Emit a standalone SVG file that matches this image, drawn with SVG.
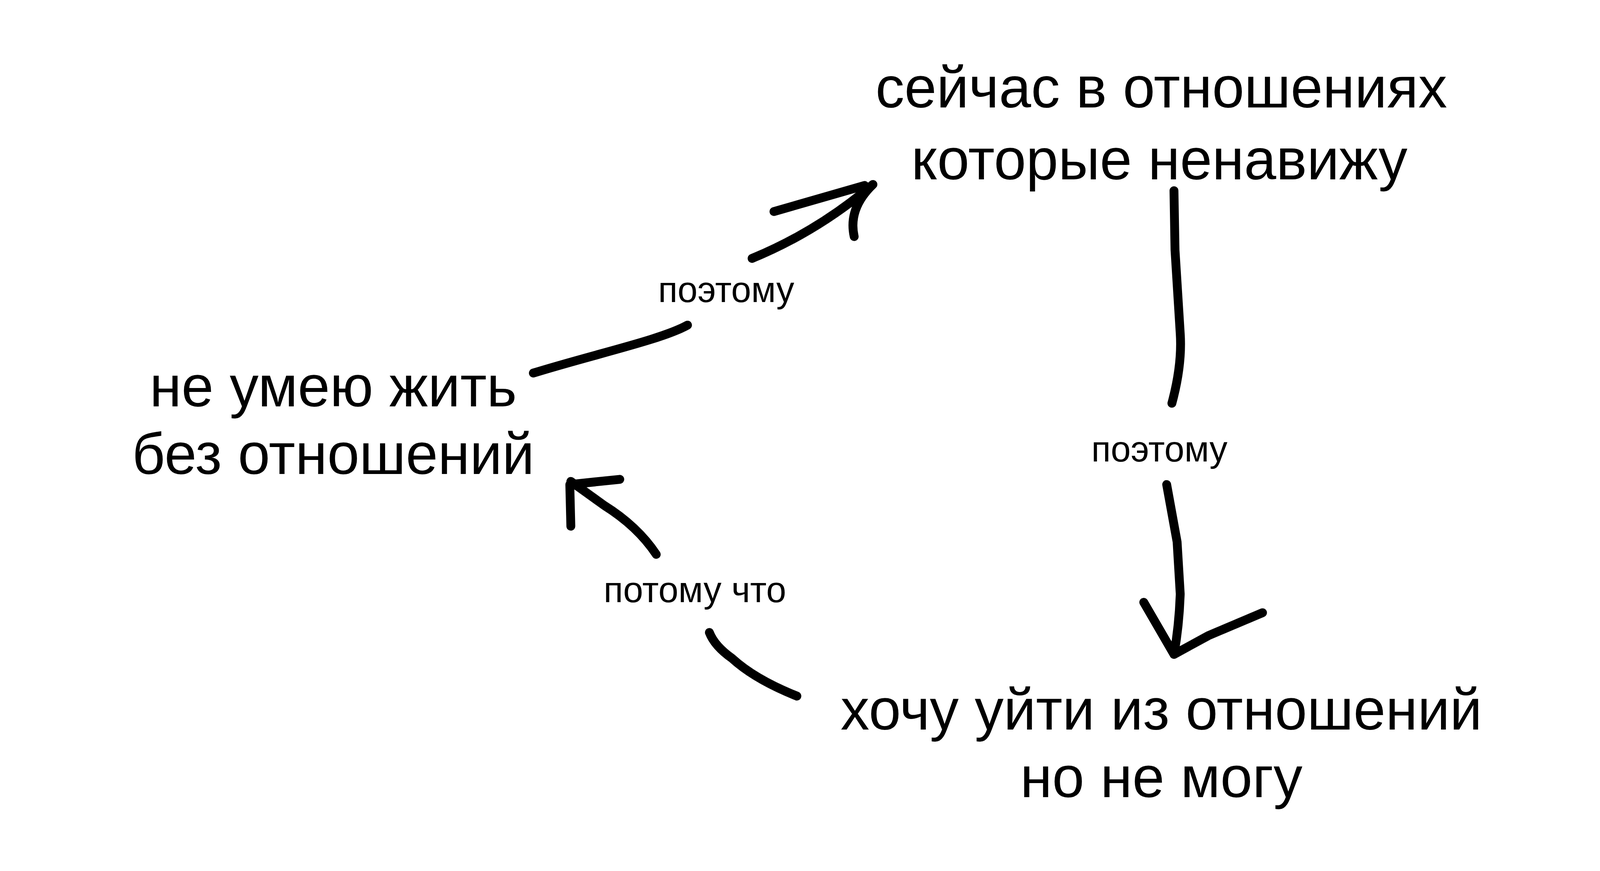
<svg xmlns="http://www.w3.org/2000/svg" width="4160" height="2229" viewBox="0 0 4160 2229">
<style>
.t{font-family:"Liberation Sans","DejaVu Sans",sans-serif;font-size:148px;fill:#000;text-anchor:middle}
.l{font-family:"Liberation Sans","DejaVu Sans",sans-serif;font-size:92px;fill:#000;text-anchor:middle}
.s{fill:none;stroke:#000;stroke-width:8.5;stroke-linecap:round;stroke-linejoin:round}
</style>
<rect width="4160" height="2229" fill="#fff"/>
<g id="n1"><text class="t" x="2973" y="275">сейчас в отношениях</text><text class="t" x="2968" y="459">которые ненавижу</text></g>
<g id="n2"><text class="t" x="853" y="1040">не умею жить</text><text class="t" x="853" y="1213">без отношений</text></g>
<g id="n3"><text class="t" x="2973" y="1867">хочу уйти из отношений</text><text class="t" x="2973" y="2040">но не могу</text></g>
<g id="connectors" transform="scale(2.6667)">
<path class="s" d="M512,358 C570,340 635,326 660,312"/>
<path class="s" d="M722,248 Q785,222 838,177 M743,203 L830,178 M820,227 Q814,200 838,177"/>
<path class="s" d="M1127,183 L1128,240 L1133,320 Q1135,350 1125,387"/>
<path class="s" d="M1120,465 L1130,520 L1133,570 Q1132,600 1127,628 M1098,578 L1127,628 L1160,610 L1212,588"/>
<path class="s" d="M765,668 Q725,652 703,632 Q686,620 681,607"/>
<path class="s" d="M630,532 Q612,505 580,485 L548,462 M548,505 L547,465 L595,460"/>
</g>
<g id="labels">
<text class="l" x="1859" y="773">поэтому</text>
<text class="l" x="2968" y="1181">поэтому</text>
<text class="l" x="1779" y="1541">потому что</text>
</g>
</svg>
